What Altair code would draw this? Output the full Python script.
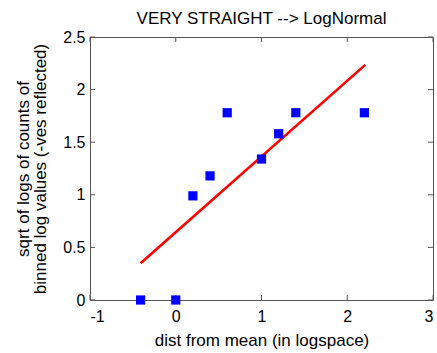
import altair as alt
import pandas as pd

# data
pts_x = [-0.41, 0.0, 0.2, 0.4, 0.6, 1.0, 1.2, 1.4, 2.2]
pts_y = [0.0, 0.0, 0.99, 1.18, 1.78, 1.34, 1.58, 1.78, 1.78]
fit_x = [-0.41, 2.21]
fit_y = [0.35, 2.235]
x_ticks = [-1, 0, 1, 2, 3]
y_ticks = [0, 0.5, 1, 1.5, 2, 2.5]

FONT = "Liberation Sans"
W, H = 343, 263
FRAME = "#555555"

pts = pd.DataFrame({"x": pts_x, "y": pts_y})
fit = pd.DataFrame({"x": fit_x, "y": fit_y})
xt = pd.DataFrame({"x": x_ticks})
yt = pd.DataFrame({"y": y_ticks})

xscale = alt.Scale(domain=[-1, 3], nice=False, zero=False)
yscale = alt.Scale(domain=[0, 2.5], nice=False, zero=False)

xaxis = alt.Axis(
    title="dist from mean (in logspace)",
    values=x_ticks,
    labelExpr="'' + datum.value",
    domain=False, ticks=False, grid=False,
    labelFont=FONT, labelFontSize=16, labelColor="black", labelPadding=8,
    titleFont=FONT, titleFontSize=17, titleFontWeight="normal", titleColor="black",
    titlePadding=8,
)
yaxis = alt.Axis(
    title=["sqrt of logs of counts of", "binned log values (-ves reflected)"],
    values=y_ticks,
    labelExpr="'' + datum.value",
    domain=False, ticks=False, grid=False,
    labelFont=FONT, labelFontSize=16, labelColor="black", labelPadding=5,
    titleFont=FONT, titleFontSize=17, titleFontWeight="normal", titleColor="black",
    titleLineHeight=17, titlePadding=13,
)

line = alt.Chart(fit).mark_line(color="#ff0000", strokeWidth=2.6).encode(
    x=alt.X("x:Q", scale=xscale, axis=xaxis),
    y=alt.Y("y:Q", scale=yscale, axis=yaxis),
)
points = alt.Chart(pts).mark_square(size=85, color="#0000ff", opacity=1).encode(
    x=alt.X("x:Q", scale=xscale),
    y=alt.Y("y:Q", scale=yscale),
)

tick_style = dict(color=FRAME, strokeWidth=1)
xt_bottom = alt.Chart(xt).mark_rule(**tick_style).encode(
    x=alt.X("x:Q", scale=xscale), y=alt.value(H), y2=alt.value(H - 5))
xt_top = alt.Chart(xt).mark_rule(**tick_style).encode(
    x=alt.X("x:Q", scale=xscale), y=alt.value(0), y2=alt.value(5))
yt_left = alt.Chart(yt).mark_rule(**tick_style).encode(
    y=alt.Y("y:Q", scale=yscale), x=alt.value(0), x2=alt.value(5))
yt_right = alt.Chart(yt).mark_rule(**tick_style).encode(
    y=alt.Y("y:Q", scale=yscale), x=alt.value(W), x2=alt.value(W - 5))

chart = alt.layer(line, xt_bottom, xt_top, yt_left, yt_right, points).properties(
    width=W,
    height=H,
    title=alt.TitleParams(
        "VERY STRAIGHT --> LogNormal",
        font=FONT, fontSize=17, fontWeight="normal", color="black",
        anchor="middle", baseline="alphabetic", offset=0, frame="group", dy=12,
    ),
    padding={"left": 90, "top": 37, "right": 4, "bottom": 53},
    autosize="none",
    background="white",
).configure_view(stroke=FRAME, strokeWidth=1)

chart.save("out.html", embed_options={"renderer": "svg", "actions": False})
